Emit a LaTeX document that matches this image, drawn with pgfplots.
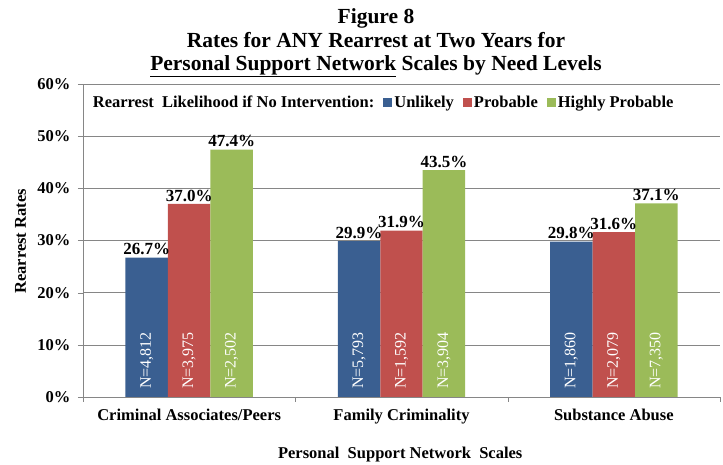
\documentclass[border=0pt]{standalone}
\usepackage{fontspec}
\setmainfont{Liberation Serif}
\usepackage{pgfplots}
\pgfplotsset{compat=1.18}
\usetikzlibrary{calc}
\definecolor{Unl}{HTML}{3A5F91}
\definecolor{Prob}{HTML}{C0504D}
\definecolor{High}{HTML}{9BBB59}
\definecolor{Grid}{HTML}{868686}

\begin{document}
\begin{tikzpicture}
\begin{axis}[
  name=ax,
  scale only axis,
  width=637pt,height=313pt,
  ymin=0,ymax=60,
  xmin=-0.5,xmax=2.5,
  ybar,bar width=0.2,
  axis x line*=bottom,axis y line*=left,
  axis line style={Grid},
  ytick={0,10,...,60},
  yticklabel={\pgfmathprintnumber{\tick}\%},
  yticklabel style={xshift=-4pt},
  ymajorgrids,grid style={Grid,line width=0.6pt},
  ytick style={Grid},
  ytick align=outside,
  xtick={0,1,2},
  xticklabels={Criminal Associates/Peers,Family Criminality,Substance Abuse},
  xticklabel style={yshift=-4pt},
  xtick style={draw=none},
  extra x ticks={-0.5,0.5,1.5,2.5},
  extra x tick labels={},
  extra x tick style={xtick style={Grid,draw=Grid},major tick length=5pt,tick align=outside,grid=none},
  major tick length=5pt,
  tick label style={font=\fontsize{16.5}{18}\selectfont\bfseries},
  /pgf/number format/assume math mode=true,
  ylabel={Rearrest Rates},
  xlabel={Personal\ \ Support Network\ \ Scales},
  label style={font=\fontsize{16.5}{18}\selectfont\bfseries},
  ylabel style={at={(axis description cs:-0.098,0.497)},anchor=center},
  xlabel style={at={(axis description cs:0.498,-0.185)},anchor=center},
  legend style={at={(axis description cs:0.012,0.94)},anchor=west,draw=none,fill=none,inner sep=0pt,
    font=\fontsize{16.5}{18}\selectfont\bfseries,
    nodes={inner xsep=2pt},
    /tikz/every even column/.append style={column sep=7pt}},
  legend columns=-1,
  legend image code/.code={\fill[#1,draw=none] (0pt,-4pt) rectangle (9pt,4.5pt);},
  nodes near coords,
  every node near coord/.append style={font=\fontsize{17}{19}\selectfont\bfseries,inner sep=2.5pt},
  nodes near coords={\pgfmathprintnumber[fixed,fixed zerofill,precision=1]{\pgfplotspointmeta}\%},
]
\addlegendimage{empty legend}
\addlegendentry{Rearrest\ \ Likelihood if No Intervention:\hspace{4pt}}
\addplot[fill=Unl,draw=none,bar shift=-0.2] coordinates {(0,26.7) (1,29.9) (2,29.8)};
\addlegendentry{Unlikely}
\addplot[fill=Prob,draw=none,bar shift=0] coordinates {(0,37.0) (1,31.9) (2,31.6)};
\addlegendentry{Probable}
\addplot[fill=High,draw=none,bar shift=0.2] coordinates {(0,47.4) (1,43.5) (2,37.1)};
\addlegendentry{Highly Probable}
% N labels inside the bars
\pgfplotsset{nlab/.style={draw=none,fill=none,forget plot,point meta=explicit symbolic,
  nodes near coords={\pgfplotspointmeta},
  every node near coord/.append style={rotate=90,anchor=west,text=white,inner ysep=0pt,inner xsep=8pt,
    font=\fontsize{16}{18}\selectfont\mdseries}}}
\addplot[nlab,bar shift=-0.2] coordinates {(0,0) [N=4{,}812] (1,0) [N=5{,}793] (2,0) [N=1{,}860]};
\addplot[nlab,bar shift=0] coordinates {(0,0) [N=3{,}975] (1,0) [N=1{,}592] (2,0) [N=2{,}079]};
\addplot[nlab,bar shift=0.2] coordinates {(0,0) [N=2{,}502] (1,0) [N=3{,}904] (2,0) [N=7{,}350]};
\end{axis}
\coordinate (O) at ($(ax.south west)+(-83pt,-68pt)$);
\node[align=center,font=\fontsize{21.5}{23.5}\selectfont\bfseries] at ($(O)+(376pt,422pt)$)
  {Figure 8\\Rates for ANY Rearrest at Two Years for\\\underline{Personal Support Network} Scales by Need Levels};
\pgfresetboundingbox
\path[use as bounding box] (O) rectangle ++(723pt,465pt);
\end{tikzpicture}
\end{document}
